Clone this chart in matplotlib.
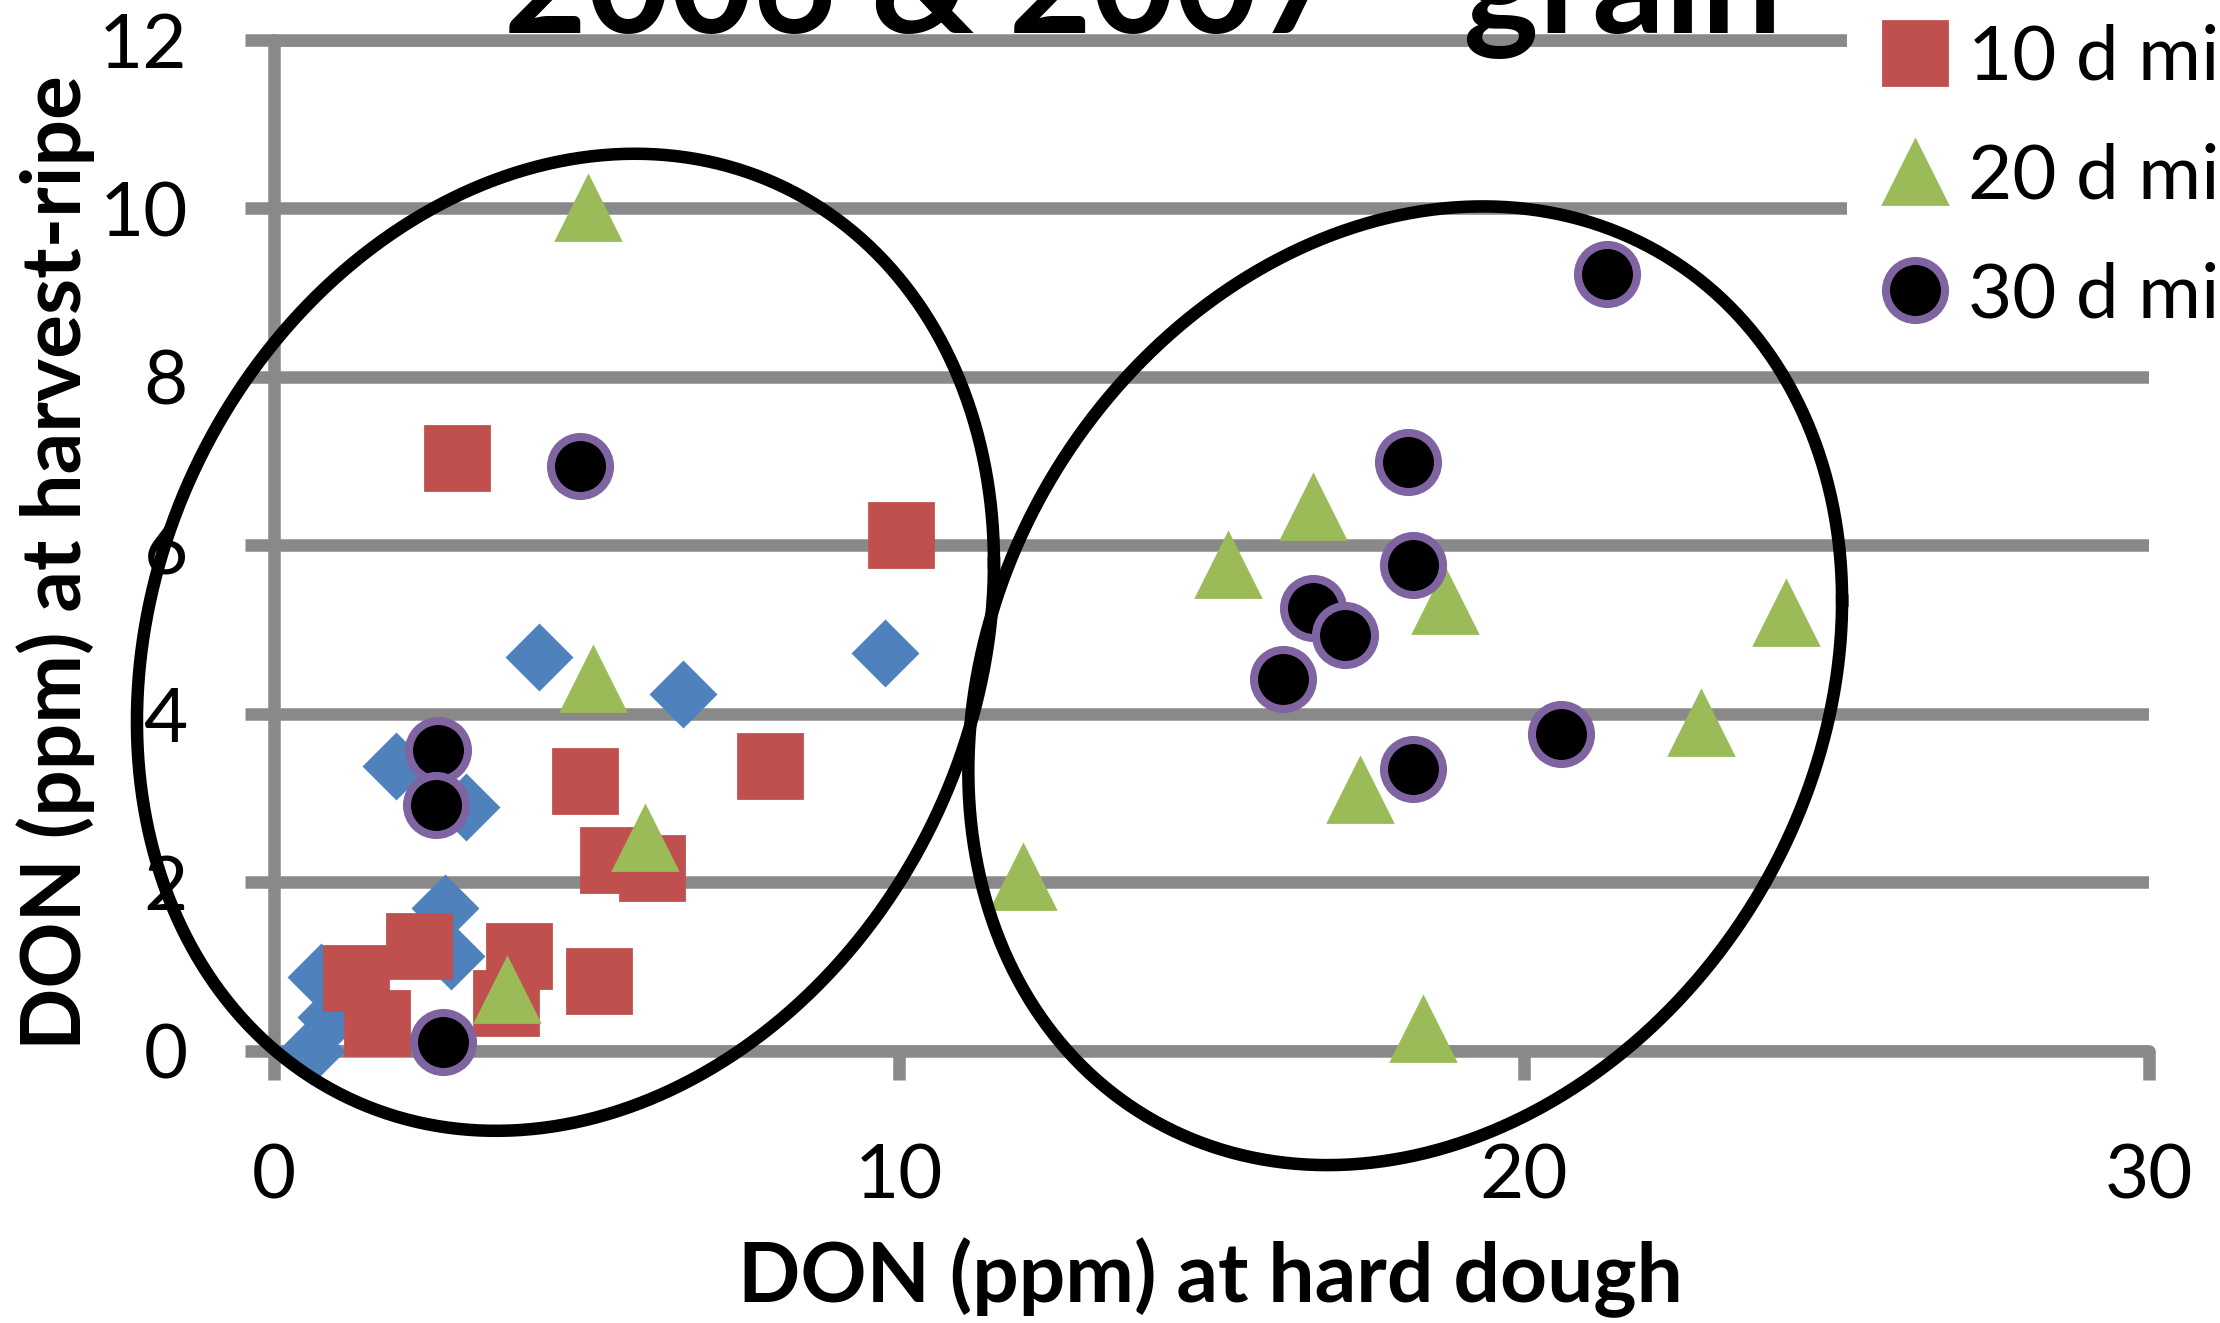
import numpy as np
import matplotlib.pyplot as plt

plt.rcParams['font.family'] = ['Lato', 'DejaVu Sans']

# ---- data (x = DON at hard dough, y = DON at harvest-ripe) ----
labels = ["0 d mist", "10 d mist", "20 d mist", "30 d mist"]

x_0d = [0.60, 0.76, 0.92, 1.96, 2.74, 2.84, 3.08, 4.24, 6.54, 9.78]
y_0d = [0.00, 0.88, 0.40, 3.38, 1.69, 1.12, 2.89, 4.68, 4.24, 4.72]

x_10d = [1.31, 1.65, 2.32, 3.92, 3.72, 5.20, 5.42, 6.05, 4.97, 7.94, 2.93, 10.04]
y_10d = [0.86, 0.33, 1.24, 1.12, 0.57, 0.83, 2.26, 2.17, 3.20, 3.38, 7.04, 6.12]

x_20d = [5.02, 5.10, 5.94, 3.73, 11.98, 16.62, 15.27, 18.73, 24.19, 22.83, 17.37, 18.39]
y_20d = [10.01, 4.41, 2.52, 0.72, 2.06, 6.46, 5.77, 5.34, 5.20, 3.89, 3.10, 0.26]

x_30d = [4.89, 2.63, 2.60, 2.70, 21.33, 18.14, 18.22, 16.62, 17.13, 16.14, 20.60, 18.22]
y_30d = [6.94, 3.57, 2.92, 0.10, 9.22, 6.99, 5.77, 5.26, 4.94, 4.41, 3.76, 3.34]

x_ticks = [0, 10, 20, 30]
y_ticks = [0, 2, 4, 6, 8, 10, 12]

# hand-drawn ellipses around the two groups: center x, center y, half width, half height, tilt term
ellipses = [
    (4.664, 4.849, 6.856, 5.800, 6.450),
    (18.10, 4.333, 6.99, 5.691, 7.075),
]

GRID = '#898989'

fig = plt.figure(figsize=(22.2, 13.23), dpi=100)
ax = fig.add_axes([0.1234, 0.2058, 0.8446, 0.764])

ax.plot(x_0d, y_0d, ls='none', marker='D', ms=33, mfc='#4F81BD', mec='#4F81BD',
        mew=2, clip_on=False, zorder=3, label=labels[0])
ax.plot(x_10d, y_10d, ls='none', marker='s', ms=46, mfc='#C0504D', mec='#C0504D',
        mew=2, clip_on=False, zorder=3, label=labels[1])
ax.plot(x_20d, y_20d, ls='none', marker='^', ms=46, mfc='#9BBB59', mec='#9BBB59',
        mew=2, clip_on=False, zorder=3, label=labels[2])
ax.plot(x_30d, y_30d, ls='none', marker='o', ms=42.5, mfc='black', mec='#8064A2',
        mew=5.8, clip_on=False, zorder=3, label=labels[3])

# ellipses drawn over the points
t = np.linspace(0, 2 * np.pi, 500)
for cx, cy, w, h, s in ellipses:
    ex = cx + w * np.cos(t)
    ey = cy + (s / w) * np.cos(t) + np.sqrt(h ** 2 - (s / w) ** 2) * np.sin(t)
    ax.plot(ex, ey, color='black', lw=9, clip_on=False, zorder=4)

ax.set_xlim(0, 30)
ax.set_ylim(0, 12)
ax.set_xticks(x_ticks)
ax.set_yticks(y_ticks)
ax.grid(axis='y', color=GRID, lw=9, solid_capstyle='round')
ax.set_axisbelow(True)

for side in ['left', 'bottom', 'top']:
    ax.spines[side].set_color(GRID)
    ax.spines[side].set_linewidth(9)
    ax.spines[side].set_capstyle('round')
ax.spines['right'].set_visible(False)

ax.tick_params(axis='both', colors=GRID, width=9, length=21, direction='out',
               labelsize=55, labelcolor='black')
ax.tick_params(axis='y', pad=41)
ax.tick_params(axis='x', pad=45)
ax.tick_params(top=False)

fig.text(0.515, 1 - 33 / 1323, '2006 & 2007 - grain', fontsize=103,
         fontweight='bold', ha='center', va='baseline')
fig.text(1210 / 2220, 1 - 1302 / 1323, 'DON (ppm) at hard dough', fontsize=59,
         fontweight='bold', ha='center', va='baseline')
fig.text(80.7 / 2220, 0.5745, 'DON (ppm) at harvest-ripe', fontsize=59,
         fontweight='bold', rotation=90, rotation_mode='anchor',
         ha='center', va='baseline')

leg = ax.legend(loc='lower left', bbox_to_anchor=(1847 / 2220, 1 - 360 / 1323),
                bbox_transform=fig.transFigure, fontsize=55, frameon=True,
                fancybox=False, edgecolor='none', facecolor='white', framealpha=1,
                borderpad=0.39, handlelength=1.0, handletextpad=0.2,
                labelspacing=0.65, borderaxespad=0, numpoints=1)
leg.set_zorder(5)

fig.savefig('out.png', dpi=100)
